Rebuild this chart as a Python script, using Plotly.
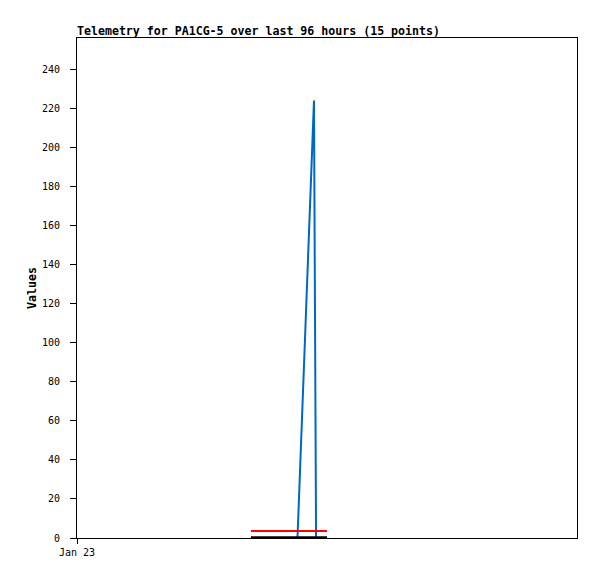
import plotly.graph_objects as go

# Data (times as datetimes)
blue_times = ["2024-01-24 18:20", "2024-01-24 21:30", "2024-01-24 21:54"]
blue_values = [0, 224, 0]
red_times = ["2024-01-24 09:24", "2024-01-25 00:00"]
red_values = [3.6, 3.6]
black_times = ["2024-01-24 09:24", "2024-01-25 00:00"]
black_values = [0.4, 0.4]
x_tick_vals = ["2024-01-23 00:00"]
x_tick_text = ["Jan 23"]
y_ticks = list(range(0, 241, 20))

fig = go.Figure()
fig.add_trace(go.Scatter(x=blue_times, y=blue_values, mode="lines",
                         line=dict(color="#0066cc", width=2), hoverinfo="skip"))
fig.add_trace(go.Scatter(x=red_times, y=red_values, mode="lines",
                         line=dict(color="#ff0000", width=2), hoverinfo="skip"))
fig.add_trace(go.Scatter(x=black_times, y=black_values, mode="lines",
                         line=dict(color="#000000", width=2), hoverinfo="skip"))

mono = "DejaVu Sans Mono"
W, H = 589, 571  # page body has an 8px margin
fig.update_layout(
    width=W, height=H,
    margin=dict(l=69, r=20, t=30, b=41),
    paper_bgcolor="white", plot_bgcolor="white",
    showlegend=False,
    title=dict(text="<b>Telemetry for PA1CG-5 over last 96 hours (15 points)</b>",
               x=69/W, xanchor="left", y=1-23/H, yanchor="middle",
               font=dict(family=mono, size=11.6, color="black")),
    font=dict(family=mono, size=10, color="black"),
)
fig.update_xaxes(
    type="date", range=["2024-01-23 00:00", "2024-01-27 00:00"],
    tickvals=x_tick_vals, ticktext=x_tick_text,
    showgrid=False, zeroline=False,
    showline=True, mirror=True, linecolor="black", linewidth=1,
    ticks="outside", ticklen=5, tickcolor="black",
    tickfont=dict(family=mono, size=10),
)
fig.update_yaxes(
    range=[0, 256], tickvals=y_ticks,
    showgrid=False, zeroline=False,
    showline=True, mirror=True, linecolor="black", linewidth=1,
    ticks="outside", ticklen=6, tickcolor="black", ticklabelstandoff=8,
    tickfont=dict(family=mono, size=10),
    title=dict(text="<b>Values</b>", font=dict(family=mono, size=11.6), standoff=2),
)

fig.write_html("out.html")
